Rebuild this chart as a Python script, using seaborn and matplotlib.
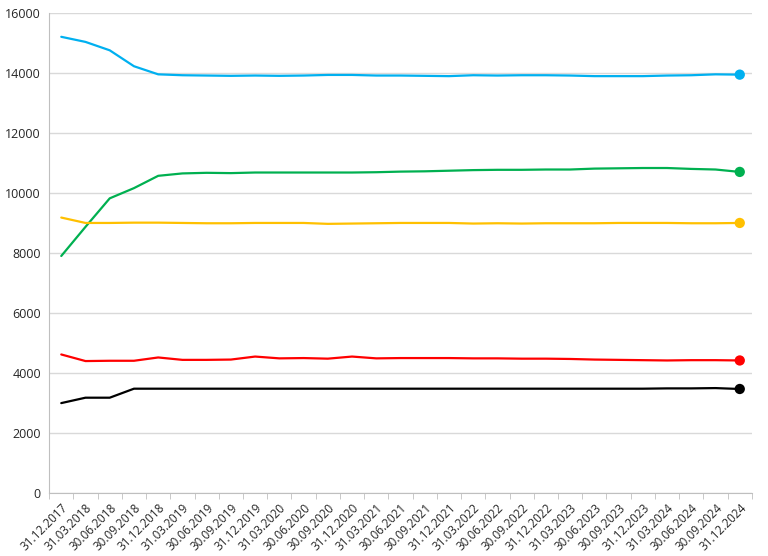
import seaborn as sns
import pandas as pd
import matplotlib.pyplot as plt
import numpy as np

dates = ["31.12.2017", "31.03.2018", "30.06.2018", "30.09.2018", "31.12.2018",
         "31.03.2019", "30.06.2019", "30.09.2019", "31.12.2019", "31.03.2020",
         "30.06.2020", "30.09.2020", "31.12.2020", "31.03.2021", "30.06.2021",
         "30.09.2021", "31.12.2021", "31.03.2022", "30.06.2022", "30.09.2022",
         "31.12.2022", "31.03.2023", "30.06.2023", "30.09.2023", "31.12.2023",
         "31.03.2024", "30.06.2024", "30.09.2024", "31.12.2024"]

blue = [15200, 15030, 14750, 14220, 13950, 13920, 13910, 13900, 13910, 13900,
        13910, 13930, 13930, 13910, 13910, 13900, 13890, 13920, 13910, 13920,
        13920, 13910, 13890, 13890, 13890, 13910, 13920, 13950, 13940]
green = [7900, 8870, 9820, 10160, 10570, 10650, 10670, 10660, 10680, 10680,
         10680, 10680, 10680, 10690, 10710, 10720, 10740, 10760, 10770, 10770,
         10780, 10780, 10810, 10820, 10830, 10830, 10800, 10780, 10700]
yellow = [9180, 9000, 9000, 9010, 9010, 9000, 8990, 8990, 9000, 9000,
          9000, 8970, 8980, 8990, 9000, 9000, 9000, 8980, 8990, 8980,
          8990, 8990, 8990, 9000, 9000, 9000, 8990, 8990, 9000]
red = [4620, 4400, 4410, 4410, 4520, 4440, 4440, 4450, 4550, 4490,
       4500, 4480, 4550, 4490, 4500, 4500, 4500, 4490, 4490, 4480,
       4480, 4470, 4450, 4440, 4430, 4420, 4430, 4430, 4420]
black = [3000, 3180, 3180, 3480, 3480, 3480, 3480, 3480, 3480, 3480,
         3480, 3480, 3480, 3480, 3480, 3480, 3480, 3480, 3480, 3480,
         3480, 3480, 3480, 3480, 3480, 3490, 3490, 3500, 3470]

series = {"blue": blue, "green": green, "yellow": yellow, "red": red, "black": black}
colors = {"blue": "#00B0F0", "green": "#00B050", "yellow": "#FFC000",
          "red": "#FF0000", "black": "#000000"}

rows = []
for name, vals in series.items():
    for i, v in enumerate(vals):
        rows.append({"x": i, "value": v, "series": name})
df = pd.DataFrame(rows)
last = df[df["x"] == len(dates) - 1]

sns.set_style("white")
plt.rcParams['font.family'] = ['Open Sans', 'DejaVu Sans']

fig = plt.figure(figsize=(7.68, 5.56), dpi=100)
ax = fig.add_axes([0.064, 0.113, 0.915, 0.864])

sns.lineplot(data=df, x="x", y="value", hue="series", palette=colors,
             linewidth=1.6, legend=False, ax=ax)
sns.scatterplot(data=last, x="x", y="value", hue="series", palette=colors,
                s=55, edgecolor="none", legend=False, ax=ax, zorder=5)

ax.set_xlim(-0.5, len(dates) - 0.5)
ax.set_ylim(0, 16000)
ax.set_yticks(np.arange(0, 16001, 2000))
ax.set_xticks(range(len(dates)))
ax.set_xticklabels(dates, rotation=45, ha="right", rotation_mode="anchor", fontsize=8.5)
ax.set_xticks(np.arange(-0.5, len(dates), 1), minor=True)
ax.tick_params(axis="x", which="major", length=0, pad=6)
ax.tick_params(axis="x", which="minor", length=4, color="#BFBFBF", bottom=True)
ax.tick_params(axis="y", length=0, labelsize=9, pad=6)
ax.grid(axis="y", color="#D9D9D9", linewidth=1)
ax.set_axisbelow(True)
ax.set_xlabel("")
ax.set_ylabel("")
for s in ["top", "right"]:
    ax.spines[s].set_visible(False)
ax.spines["left"].set_color("#BFBFBF")
ax.spines["bottom"].set_color("#BFBFBF")

fig.savefig("out.png", dpi=100)
